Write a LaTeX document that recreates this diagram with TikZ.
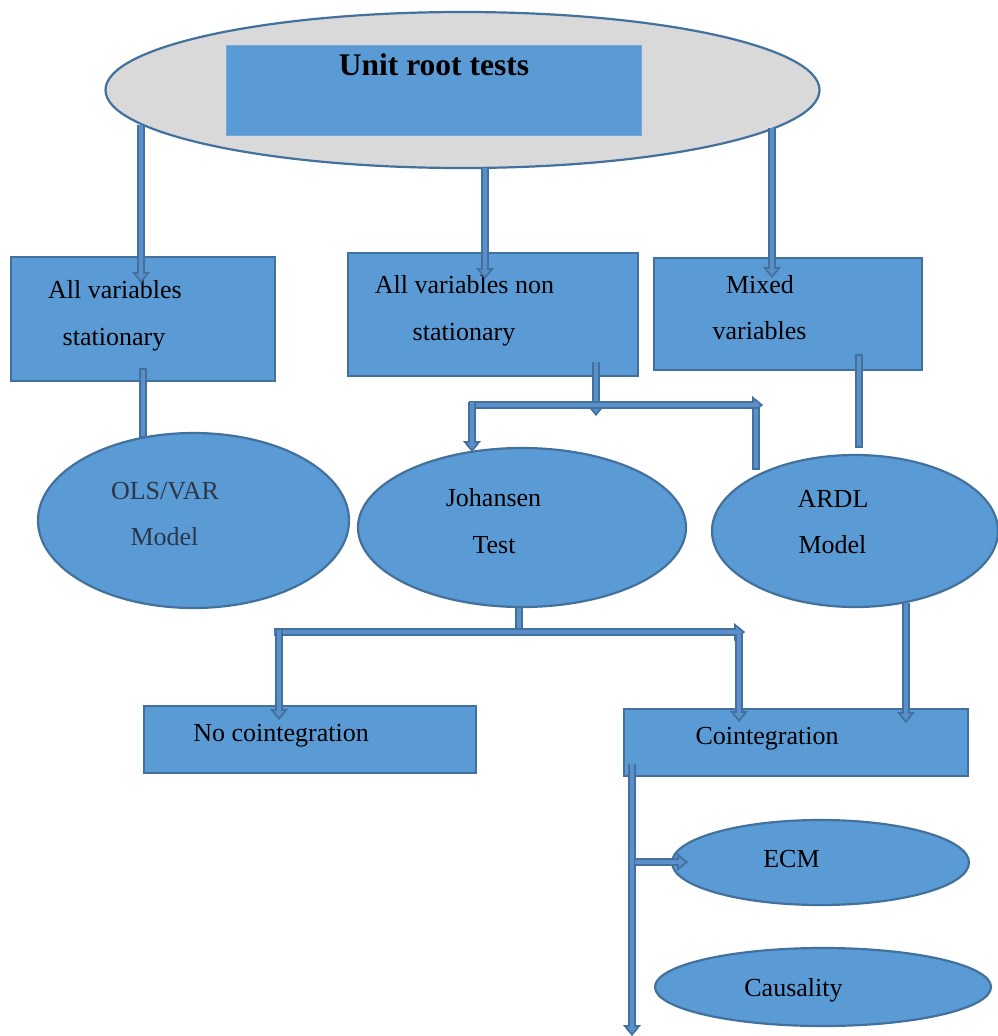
\documentclass[tikz,border=0pt]{standalone}
\usepackage{fontspec}
\setmainfont{Liberation Serif}
\usetikzlibrary{arrows.meta,shapes.geometric}
\definecolor{bfill}{HTML}{5B9BD5}
\definecolor{bline}{HTML}{41719C}
\definecolor{gfill}{HTML}{D9D9D9}
\definecolor{cout}{HTML}{41719C}
\definecolor{cin}{HTML}{5A8FCC}
\definecolor{dtext}{HTML}{2B3646}
\newcommand\pipeA[1]{%
  \draw[cout,line width=8pt,-{Triangle[width=18pt,length=11pt,line width=0.4pt]}] #1;
  \draw[cin,line width=3.6pt,shorten >=3pt,-{Triangle[width=10pt,length=6pt,line width=0.4pt]}] #1;}
\newcommand\pipeN[1]{%
  \draw[cout,line width=8pt] #1;
  \draw[cin,line width=3.6pt,shorten <=2.2pt,shorten >=2.2pt] #1;}
\begin{document}
\begin{tikzpicture}[x=1pt,y=-1pt,
  box/.style={draw=bline,fill=bfill,line width=2.2pt,rectangle,inner sep=0pt},
  oval/.style={draw=bline,fill=bfill,line width=2.2pt,ellipse,inner sep=0pt},
  lbl/.style={anchor=base,inner sep=0pt,font=\fontsize{26}{30}\selectfont}]
\useasboundingbox[fill=white] (0,0) rectangle (998,1036);
% nodes
\node[oval,fill=gfill,minimum width=714pt,minimum height=156pt] (top) at (462.5,90) {};
\node[rectangle,fill=bfill,draw=bfill!85!white,line width=0.8pt,minimum width=415pt,minimum height=90pt] (title) at (433.5,90) {};
\node[lbl,font=\fontsize{31.5}{36}\selectfont\bfseries] (titlet) at (434,75) {Unit root tests};

\node[box,minimum width=264pt,minimum height=124pt] (b1) at (143,319) {};
\node[box,minimum width=290pt,minimum height=123pt] (b2) at (493,314.5) {};
\node[box,minimum width=268pt,minimum height=112pt] (b3) at (788,314) {};
\node[lbl] (b1a) at (115,298) {All variables};
\node[lbl] (b1b) at (114,345) {stationary};
\node[lbl] (b2a) at (464.5,293) {All variables non};
\node[lbl] (b2b) at (464,340) {stationary};
\node[lbl] (b3a) at (760,293) {Mixed};
\node[lbl] (b3b) at (759.5,339) {variables};

\node[oval,minimum width=311pt,minimum height=175pt] (e1) at (193.5,520.5) {};
\node[oval,minimum width=328pt,minimum height=159pt] (e2) at (522,527.5) {};
\node[oval,minimum width=286pt,minimum height=152pt] (e3) at (855,531) {};
\node[lbl,text=dtext] (e1a) at (165,499) {OLS/VAR};
\node[lbl,text=dtext] (e1b) at (164.5,545) {Model};
\node[lbl] (e2a) at (493.5,506) {Johansen};
\node[lbl] (e2b) at (494,553) {Test};
\node[lbl] (e3a) at (833,507) {ARDL};
\node[lbl] (e3b) at (832.5,553) {Model};

\node[box,minimum width=332pt,minimum height=67pt] (nc) at (310,739.5) {};
\node[box,minimum width=344pt,minimum height=67pt] (co) at (796,742.5) {};
\node[lbl] (nct) at (281,741) {No cointegration};
\node[lbl] (cot) at (767,744) {Cointegration};

\node[oval,minimum width=297pt,minimum height=85pt] (ecm) at (820.5,862.5) {};
\node[oval,minimum width=336pt,minimum height=78pt] (cau) at (823,987) {};
\node[lbl] (ecmt) at (791.5,867) {ECM};
\node[lbl] (caut) at (793.5,996) {Causality};

% connector end points
\coordinate (t1) at (141,125);   \coordinate (t1e) at (141,283);
\coordinate (t2) at (485,168);   \coordinate (t2e) at (485,279);
\coordinate (t3) at (772,128);   \coordinate (t3e) at (772,278);
\coordinate (s1) at (143,368);   \coordinate (s1e) at (143,438);
\coordinate (n1) at (596,362);   \coordinate (n1e) at (596,416);
\coordinate (j1l) at (469,405);  \coordinate (j1r) at (763,405);
\coordinate (j1a) at (472,402);  \coordinate (j1ae) at (472,452);
\coordinate (j1b) at (756,407);  \coordinate (j1be) at (756,470);
\coordinate (m1) at (859,354);   \coordinate (m1e) at (859,448);
\coordinate (h1) at (519,606);   \coordinate (h1e) at (519,632);
\coordinate (j2l) at (274,632);  \coordinate (j2r) at (745,632);
\coordinate (j2a) at (279,630);  \coordinate (j2ae) at (279,720);
\coordinate (j2b) at (739,634);  \coordinate (j2be) at (739,722);
\coordinate (a1) at (906,603);   \coordinate (a1e) at (906,723);
\coordinate (c1) at (632,764);   \coordinate (c1e) at (632,1036);
\coordinate (c2) at (635,862);   \coordinate (c2e) at (688,862);

% connectors
\pipeA{(t1) -- (t1e)}
\pipeA{(t2) -- (t2e)}
\pipeA{(t3) -- (t3e)}
\pipeN{(s1) -- (s1e)}
\pipeA{(n1) -- (n1e)}
\pipeA{(j1l) -- (j1r)}
\pipeA{(j1a) -- (j1ae)}
\pipeN{(j1b) -- (j1be)}
\pipeN{(m1) -- (m1e)}
\pipeN{(h1) -- (h1e)}
\pipeA{(j2l) -- (j2r)}
\pipeA{(j2a) -- (j2ae)}
\pipeA{(j2b) -- (j2be)}
\pipeA{(a1) -- (a1e)}
\pipeA{(c1) -- (c1e)}
\pipeA{(c2) -- (c2e)}
\end{tikzpicture}
\end{document}
